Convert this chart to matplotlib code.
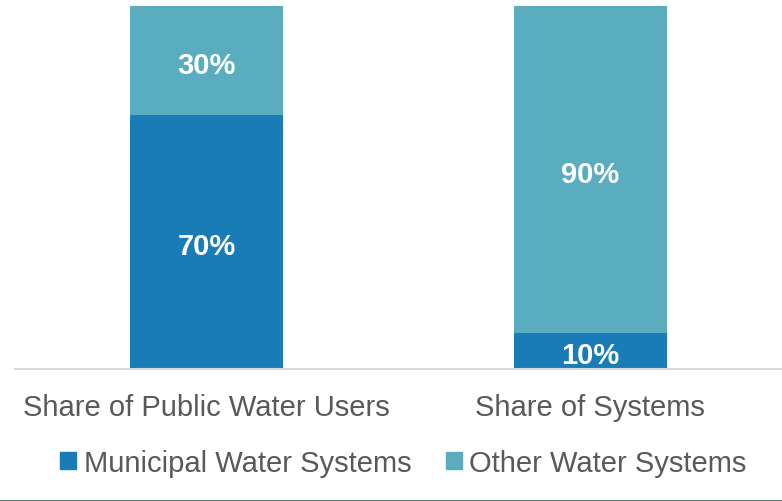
import matplotlib
matplotlib.use("Agg")
import matplotlib.pyplot as plt
from matplotlib.patches import Patch
from matplotlib.lines import Line2D

categories = ["Share of Public Water Users", "Share of Systems"]
municipal = [70, 10]
other = [30, 90]
series_names = ["Municipal Water Systems", "Other Water Systems"]

plt.rcParams['font.family'] = ['Liberation Sans', 'DejaVu Sans']

c_mun = "#197CB7"
c_oth = "#5AACBF"
txt = "#595959"

fig = plt.figure(figsize=(7.82, 5.02), dpi=100)
W, H = 782, 502
ax = fig.add_axes([15 / W, (H - 370) / H, 767 / W, 363 / H])
x = list(range(len(categories)))
b1 = ax.bar(x, municipal, width=0.4, color=c_mun, zorder=2)
b2 = ax.bar(x, other, width=0.4, bottom=municipal, color=c_oth, zorder=2)
for bars, vals, bots in [(b1, municipal, [0, 0]), (b2, other, municipal)]:
    for r, v, b in zip(bars, vals, bots):
        ax.annotate(f"{v}%", (r.get_x() + r.get_width() / 2, b + v / 2),
                    xytext=(0, -3), textcoords="offset points", ha="center", va="center",
                    color="white", fontsize=21, fontweight="bold", zorder=3)
ax.set_xlim(-0.5, 1.5)
ax.set_ylim(0, 100)
for s in ["top", "right", "left"]:
    ax.spines[s].set_visible(False)
ax.spines["bottom"].set_color("#D9D9D9")
ax.spines["bottom"].set_linewidth(1.5)
ax.set_yticks([])
ax.set_xticks(x)
ax.set_xticklabels(categories, fontsize=21, color=txt)
ax.tick_params(axis="x", length=0, pad=17)

handles = [Patch(color=c_mun), Patch(color=c_oth)]
leg = fig.legend(handles, series_names, loc="center", bbox_to_anchor=(403.5 / W, 1 - 464 / H),
                 ncol=2, frameon=False, fontsize=21, handlelength=0.54, handleheight=0.54,
                 handletextpad=0.25, columnspacing=1.2, labelcolor=txt)

fig.add_artist(Line2D([0, 1], [0.5 / H, 0.5 / H], color="#5A7F78", linewidth=1.5))
fig.savefig("out.png", dpi=100)
